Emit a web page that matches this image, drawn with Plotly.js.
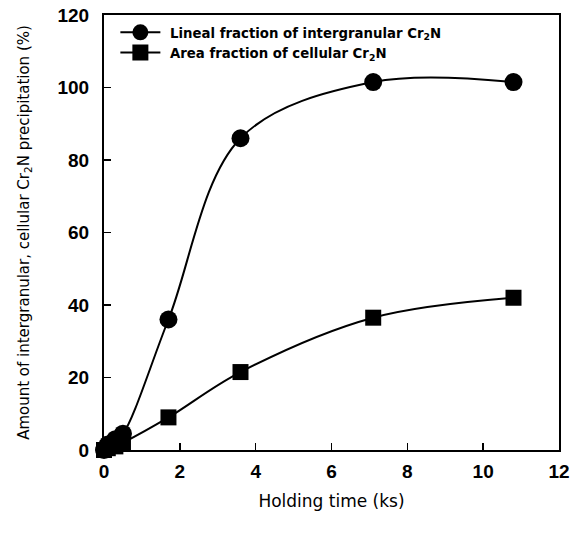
<!DOCTYPE html>
<html>
<head>
<meta charset="utf-8">
<script src="https://cdn.plot.ly/plotly-3.0.1.min.js"></script>
<style>
  html, body { margin: 0; padding: 0; background: #fff; }
  #chart { width: 577px; height: 533px; }
</style>
</head>
<body>
<div id="chart"></div>
<script>
// Holding time (ks)
const holdingTime = [0, 0.1, 0.3, 0.5, 1.7, 3.6, 7.1, 10.8];
// Lineal fraction of intergranular Cr2N (%)
const linealFraction = [0, 1.5, 3, 4.5, 36, 86, 101.5, 101.5];
// Area fraction of cellular Cr2N (%)
const areaFraction = [0, 0.5, 1, 2, 9, 21.5, 36.5, 42];

const xTicks = [0, 2, 4, 6, 8, 10, 12];
const yTicks = [0, 20, 40, 60, 80, 100, 120];

const tickFamily = '"Liberation Sans", Arial, sans-serif';
const textFamily = '"DejaVu Sans", sans-serif';

const traces = [
  {
    x: holdingTime,
    y: linealFraction,
    name: ' Lineal fraction of intergranular Cr<sub>2</sub>N',
    mode: 'lines+markers',
    line: { color: '#000', width: 2, shape: 'spline', smoothing: 1 },
    marker: { symbol: 'circle', size: 18, color: '#000' },
    cliponaxis: false
  },
  {
    x: holdingTime,
    y: areaFraction,
    name: ' Area fraction of cellular Cr<sub>2</sub>N',
    mode: 'lines+markers',
    line: { color: '#000', width: 2, shape: 'spline', smoothing: 1 },
    marker: { symbol: 'square', size: 16, color: '#000' },
    cliponaxis: false
  }
];

const layout = {
  width: 577,
  height: 533,
  margin: { l: 104, r: 18, t: 15, b: 83 },
  paper_bgcolor: '#fff',
  plot_bgcolor: '#fff',
  font: { family: textFamily, color: '#000' },
  showlegend: true,
  legend: {
    x: 0.025,
    y: 0.995,
    xanchor: 'left',
    yanchor: 'top',
    bgcolor: 'rgba(0,0,0,0)',
    itemwidth: 40,
    tracegroupgap: 0,
    font: { family: textFamily, size: 13.3, color: '#000', weight: 'bold' }
  },
  xaxis: {
    range: [0, 12],
    tickvals: xTicks,
    ticktext: xTicks.map(String),
    ticks: 'inside',
    ticklen: 7,
    tickwidth: 1.5,
    tickcolor: '#000',
    showline: true,
    linecolor: '#000',
    linewidth: 2,
    mirror: true,
    showgrid: false,
    zeroline: false,
    ticklabelstandoff: 3,
    tickfont: { family: tickFamily, size: 19, color: '#000', weight: 'bold' },
    title: {
      text: 'Holding time (ks)',
      font: { family: textFamily, size: 17, color: '#000' },
      standoff: 14
    }
  },
  yaxis: {
    range: [0, 120],
    tickvals: yTicks,
    ticktext: yTicks.map(String),
    ticks: 'inside',
    ticklen: 7,
    tickwidth: 1.5,
    tickcolor: '#000',
    showline: true,
    linecolor: '#000',
    linewidth: 2,
    mirror: true,
    showgrid: false,
    zeroline: false,
    ticklabelstandoff: 9,
    tickfont: { family: tickFamily, size: 19, color: '#000', weight: 'bold' },
    title: {
      text: 'Amount of intergranular, cellular Cr<sub>2</sub>N precipitation (%)',
      font: { family: textFamily, size: 15, color: '#000' },
      standoff: 24
    }
  }
};

Plotly.newPlot('chart', traces, layout, { displayModeBar: false, staticPlot: true });
</script>
</body>
</html>
